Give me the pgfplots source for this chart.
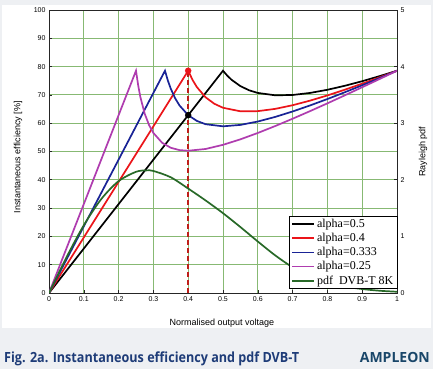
\documentclass[border=0pt]{standalone}
\usepackage{fontspec}
\setmainfont{Liberation Sans}
\newfontfamily\capfont{Open Sans}
\newfontfamily\legfont{Liberation Serif}
\usepackage{graphicx}
\usepackage{pgfplots}
\pgfplotsset{compat=1.18}
\definecolor{gridgreen}{RGB}{135,185,115}
\definecolor{cred}{RGB}{235,20,25}
\definecolor{cblue}{RGB}{25,35,150}
\definecolor{cpurple}{RGB}{175,60,175}
\definecolor{cgreen}{RGB}{40,105,40}
\definecolor{dred}{RGB}{190,30,25}
\definecolor{capblue}{RGB}{30,60,120}
\definecolor{logoblue}{RGB}{25,70,105}
\definecolor{bggray}{RGB}{238,240,243}
\pgfplotsset{
  base/.style={
    at={(49pt,76pt)}, anchor=south west, scale only axis,
    width=348pt, height=283pt, xmin=0, xmax=1,
    tick label style={font=\fontsize{7}{8}\selectfont},
    /pgf/number format/assume math mode=true,
    axis line style={black!85, line width=0.8pt},
    major tick length=3pt,
    tick style={black!85, line width=0.6pt},
  }
}
\begin{document}
\begin{tikzpicture}[x=1pt,y=1pt]
\fill[bggray] (0,0) rectangle (433,369);
\fill[white] (2,41) rectangle (431,364);
\begin{axis}[base, ymin=0, ymax=100,
  xtick={0,0.1,0.2,0.3,0.4,0.5,0.6,0.7,0.8,0.9,1},
  xticklabels={0,0.1,0.2,0.3,0.4,0.5,0.6,0.7,0.8,0.9,1},
  ytick={0,10,...,100},
  grid=major, major grid style={gridgreen, line width=0.9pt},
  ytick pos=left, xtick pos=bottom,
  xlabel={Normalised output voltage},
  ylabel={Instantaneous efficiency [\%]},
  xlabel style={font=\fontsize{9}{10}\selectfont, at={(axis description cs:0.497,-0.106)}, anchor=center},
  ylabel style={font=\fontsize{9}{10}\selectfont, at={(axis description cs:-0.089,0.48)}, anchor=center},
]
\addplot[black, line width=1.7pt] coordinates {(0,0) (0.5,78.54) (0.5125,76.76) (0.525,75.30) (0.55,73.10) (0.575,71.63) (0.6,70.69) (0.65,69.86) (0.7,69.97) (0.75,70.69) (0.8,71.81) (0.85,73.22) (0.9,74.84) (0.95,76.63) (1,78.54)};
\addplot[cred, line width=1.7pt] coordinates {(0,0) (0.4,78.54) (0.4125,75.29) (0.425,72.75) (0.45,69.15) (0.475,66.87) (0.5,65.45) (0.55,64.21) (0.6,64.26) (0.65,65.06) (0.7,66.35) (0.75,67.97) (0.8,69.81) (0.85,71.83) (0.9,73.97) (0.95,76.22) (1,78.54)};
\addplot[cblue, line width=1.7pt] coordinates {(0,0) (0.3333,78.54) (0.3417,75.01) (0.35,72.16) (0.3625,68.80) (0.375,66.27) (0.4,62.83) (0.425,60.80) (0.45,59.64) (0.5,58.90) (0.55,59.40) (0.6,60.59) (0.65,62.22) (0.7,64.14) (0.75,66.27) (0.8,68.54) (0.85,70.93) (0.9,73.41) (0.95,75.94) (1,78.54)};
\addplot[cpurple, line width=1.7pt] coordinates {(0,0) (0.25,78.54) (0.2563,73.35) (0.2625,69.27) (0.275,63.36) (0.2875,59.35) (0.3,56.55) (0.325,53.09) (0.35,51.31) (0.375,50.49) (0.4,50.27) (0.45,50.89) (0.5,52.36) (0.55,54.30) (0.6,56.55) (0.65,58.99) (0.7,61.58) (0.75,64.26) (0.8,67.02) (0.85,69.84) (0.9,72.71) (0.95,75.61) (1,78.54)};
\addplot[dred, line width=2pt, dash pattern=on 5pt off 3pt] coordinates {(0.4,0) (0.4,78.54)};
\addplot[only marks, mark=*, mark size=3pt, cred] coordinates {(0.4,78.54)};
\addplot[only marks, mark=*, mark size=3pt, black] coordinates {(0.4,62.83)};
\end{axis}
\begin{axis}[base, ymin=0, ymax=5, ytick={0,1,2,3,4,5},
  axis y line*=right, axis x line=none,
  ylabel={Rayleigh pdf},
  ylabel style={font=\fontsize{9}{10}\selectfont, at={(axis description cs:1.075,0.5)}, anchor=center},
  legend style={at={(axis description cs:0.69,0.272)}, anchor=north west,
    draw=black, fill=white, inner xsep=2pt, inner ysep=1pt,
    font=\legfont\fontsize{12}{12}\selectfont, row sep=0.3pt},
  legend cell align=left,
  legend image code/.code={\draw[#1, line width=1.7pt] (0pt,0pt) -- (22pt,0pt);},
]
\addlegendimage{black}
\addlegendentry{alpha=0.5}
\addlegendimage{cred}
\addlegendentry{alpha=0.4}
\addlegendimage{cblue}
\addlegendentry{alpha=0.333}
\addlegendimage{cpurple}
\addlegendentry{alpha=0.25}
\addplot[cgreen, line width=1.7pt, smooth] coordinates {(0,0) (0.05,0.628) (0.1,1.197) (0.15,1.658) (0.2,1.977) (0.25,2.141) (0.28,2.166) (0.3,2.156) (0.35,2.044) (0.4,1.845) (0.45,1.635) (0.5,1.410) (0.55,1.165) (0.6,0.910) (0.65,0.665) (0.7,0.455) (0.75,0.300) (0.8,0.190) (0.85,0.115) (0.9,0.070) (0.95,0.040) (1,0.022)};
\addlegendentry{pdf\ \ DVB-T 8K}
\end{axis}
\node[anchor=base west, text=capblue, inner sep=0] at (4,7) {\scalebox{0.9}[1]{\capfont\bfseries\fontsize{14}{16}\selectfont Fig. 2a. Instantaneous efficiency and pdf DVB-T}};
\node[anchor=base east, text=logoblue, inner sep=0] at (430,7) {\capfont\bfseries\fontsize{14}{15}\selectfont AMPLEON};
\end{tikzpicture}
\end{document}
